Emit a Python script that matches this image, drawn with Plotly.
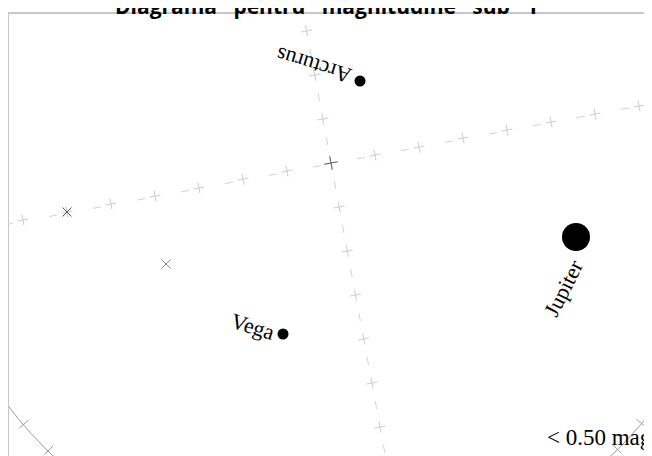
import plotly.graph_objects as go

# ---- data (chart units = screen-like units) ----
star_names = ["Arcturus", "Vega", "Jupiter"]
star_x = [360, 283, 576]
star_y = [81, 334, 237]
star_size = [11, 11, 28]
label_x = [314, 253, 563]
label_y = [66, 326, 288]
label_angle = [-163, 17, -63]

# grid line through zenith, "horizontal" direction (nodes every 10 deg)
grid_h_x = [23, 67, 111, 155, 199, 243, 287, 331, 375, 419, 463, 507, 551, 595, 639]
grid_h_y = [220, 212, 204, 196, 188, 179, 171, 163, 155, 147, 138, 130, 122, 114, 106]
# grid line through zenith, "vertical" direction
grid_v_x = [306.5, 314.7, 322.8, 331, 339.2, 347.3, 355.5, 363.7, 371.9, 380.0]
grid_v_y = [31, 75, 119, 163, 207, 251, 295, 339, 383, 427]
# line extents (one step beyond the visible nodes)
line_h_x = [-13, 683]
line_h_y = [228.2, 97.8]
line_v_x = [298.3, 388.2]
line_v_y = [-13, 471]

zenith_x = [331]
zenith_y = [163]
mark_x = [67, 166]
mark_y = [212, 264]
mark_color = ["#555555", "#8a8a8a"]

# horizon circle
hor_cx, hor_cy, hor_r = 332, 161, 406
tick_x0 = [28.6, 52.8, 636.3, 612.7]
tick_y0 = [420.1, 446.1, 419.1, 444.6]
tick_x1 = [19.5, 44.4, 645.5, 621.1]
tick_y1 = [427.9, 454.7, 426.8, 453.1]

title_text = "\u00a0\u00a0\u00a0".join(["Diagrama", "pentru", "magnitudine", "sub", "1"])
limit_text = "&lt; 0.50 mag"

# page offset of the figure (browser default body margin)
PAGE_OFF = 8
FIG_W, FIG_H = 652, 456
TOP_M = 5

fig = go.Figure()

fig.add_shape(type="circle", xref="x", yref="y",
              x0=hor_cx - hor_r, x1=hor_cx + hor_r,
              y0=hor_cy - hor_r, y1=hor_cy + hor_r,
              line=dict(color="#9a9a9a", width=1), layer="below")

for x0, y0, x1, y1 in zip(tick_x0, tick_y0, tick_x1, tick_y1):
    fig.add_shape(type="line", xref="x", yref="y", x0=x0, y0=y0, x1=x1, y1=y1,
                  line=dict(color="#9a9a9a", width=1), layer="below")

# frame (left and top borders of the chart box)
fig.add_shape(type="line", xref="paper", yref="paper", x0=0, x1=0, y0=0, y1=1,
              line=dict(color="#c8c8c8", width=2))
fig.add_shape(type="line", xref="paper", yref="paper", x0=0, x1=1, y0=1, y1=1,
              line=dict(color="#c8c8c8", width=2))

dash = "0px,18.4px,8px,18.35px"
fig.add_trace(go.Scatter(x=line_h_x, y=line_h_y, mode="lines",
                         line=dict(color="#d2d2d2", width=1, dash=dash),
                         hoverinfo="skip", showlegend=False))
fig.add_trace(go.Scatter(x=line_v_x, y=line_v_y, mode="lines",
                         line=dict(color="#d2d2d2", width=1, dash=dash),
                         hoverinfo="skip", showlegend=False))

fig.add_trace(go.Scatter(x=grid_h_x + grid_v_x, y=grid_h_y + grid_v_y, mode="markers",
                         marker=dict(symbol="cross-thin", size=8, angle=-10.5,
                                     line=dict(color="#cccccc", width=1)),
                         hoverinfo="skip", showlegend=False))
fig.add_trace(go.Scatter(x=zenith_x, y=zenith_y, mode="markers",
                         marker=dict(symbol="cross-thin", size=10, angle=-10.5,
                                     line=dict(color="#666666", width=1)),
                         hoverinfo="skip", showlegend=False))
fig.add_trace(go.Scatter(x=mark_x, y=mark_y, mode="markers",
                         marker=dict(symbol="x-thin", size=9,
                                     line=dict(color=mark_color, width=1)),
                         hoverinfo="skip", showlegend=False))

fig.add_trace(go.Scatter(x=star_x, y=star_y, mode="markers", text=star_names,
                         marker=dict(color="#000000", size=star_size, opacity=1,
                                     line=dict(width=0)),
                         showlegend=False))

for name, lx, ly, ang in zip(star_names, label_x, label_y, label_angle):
    fig.add_annotation(x=lx, y=ly, xref="x", yref="y", text=name, textangle=ang,
                       showarrow=False, xanchor="center", yanchor="middle",
                       font=dict(family="Liberation Serif", size=22, color="black"))

fig.add_annotation(x=654, y=437, xref="x", yref="y", text=limit_text,
                   showarrow=False, xanchor="right", yanchor="middle",
                   font=dict(family="Liberation Serif", size=23, color="black"))

fig.add_annotation(x=(326 - PAGE_OFF) / FIG_W, y=1, xref="paper", yref="paper",
                   text="<b>" + title_text + "</b>",
                   showarrow=False, xanchor="center", yanchor="bottom", yshift=-9,
                   font=dict(family="Open Sans", size=21, color="black"))

fig.update_layout(
    width=FIG_W, height=FIG_H,
    margin=dict(l=0, r=0, t=TOP_M, b=0),
    paper_bgcolor="white", plot_bgcolor="white",
    xaxis=dict(range=[PAGE_OFF, PAGE_OFF + FIG_W], showgrid=False, zeroline=False,
               showticklabels=False, ticks="", showline=False, fixedrange=True),
    yaxis=dict(range=[PAGE_OFF + FIG_H, PAGE_OFF + TOP_M], showgrid=False, zeroline=False,
               showticklabels=False, ticks="", showline=False, fixedrange=True),
)

fig.write_html("out.html")
